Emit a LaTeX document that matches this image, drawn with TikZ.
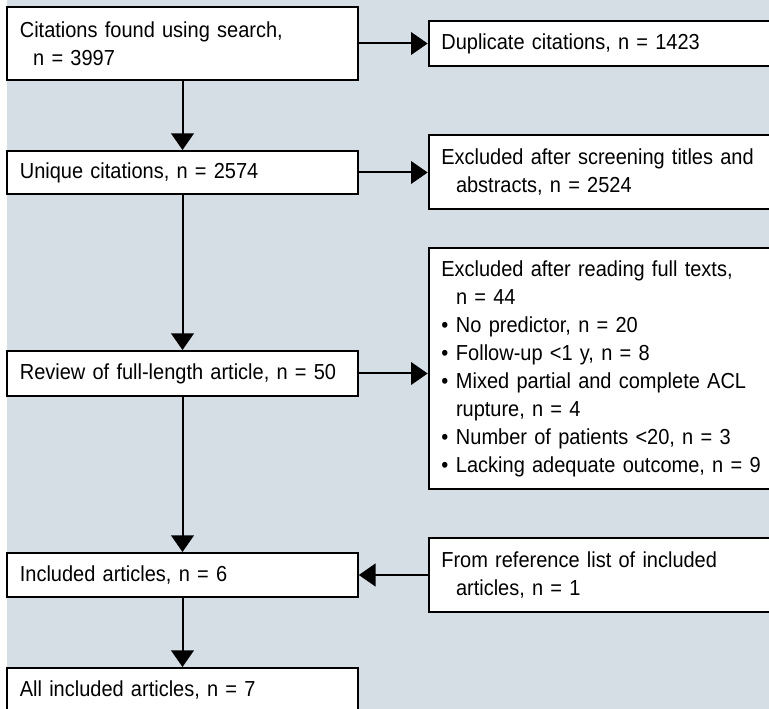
\documentclass[tikz,border=0pt]{standalone}
\usepackage{fontspec}
\setmainfont{Liberation Sans}[FakeStretch=0.92,WordSpace=0.8]
\usepackage{tikz}
\usetikzlibrary{arrows.meta}
\usetikzlibrary{positioning}

\definecolor{panel}{RGB}{214,222,229}
\newcommand{\itm}{\makebox[11pt][l]{\textbullet}}

\begin{document}
\begin{tikzpicture}[x=0.75pt,y=-0.75pt,every node/.style={draw,fill=white,line width=1.5pt,align=left,inner xsep=9.5pt,text width=244pt,font=\fontsize{16.3}{21}\selectfont},flow/.style={line width=1.5pt,-{Triangle[width=17pt,length=12.5pt]}}]
  \useasboundingbox (0,0) rectangle (769,709);
  \clip (0,0) rectangle (769,709);
  \fill[panel] (7,0) rectangle (769,709);
  % main column
  \node[minimum height=54.75pt] (1) at (182.5,43.5) {Citations found using search,\\\hspace*{10pt}n = 3997};
  \node[minimum height=32.25pt] (2) at (182.5,172.5) {Unique citations, n = 2574};
  \node[minimum height=33.75pt] (3) at (182.5,373.5) {Review of full-length article, n = 50};
  \node[minimum height=33pt] (4) at (182.5,575) {Included articles, n = 6};
  \node[minimum height=33pt] (5) at (182.5,690) {All included articles, n = 7};
  % side column
  \node[minimum height=33.75pt] (11) at (604,43.5) {Duplicate citations, n = 1423};
  \node[minimum height=55.5pt] (12) at (604,172.5) {Excluded after screening titles and\\\hspace*{11pt}abstracts, n = 2524};
  \node[minimum height=180.75pt] (13) at (604,368.5) {Excluded after reading full texts,\\\hspace*{11pt}n = 44\\\itm No predictor, n = 20\\\itm Follow-up <1 y, n = 8\\\itm Mixed partial and complete ACL\\\hspace*{11pt}rupture, n = 4\\\itm Number of patients <20, n = 3\\\itm Lacking adequate outcome, n = 9};
  \node[minimum height=55.5pt] (14) at (604,575) {From reference list of included\\\hspace*{11pt}articles, n = 1};
  \draw[flow](1)--(2);
  \draw[flow](2)--(3);
  \draw[flow](3)--(4);
  \draw[flow](4)--(5);
  \draw[flow](1)--(11);
  \draw[flow](2)--(12);
  \draw[flow](3)--(3 -| 13.west);
  \draw[flow](14)--(4);
\end{tikzpicture}
\end{document}
